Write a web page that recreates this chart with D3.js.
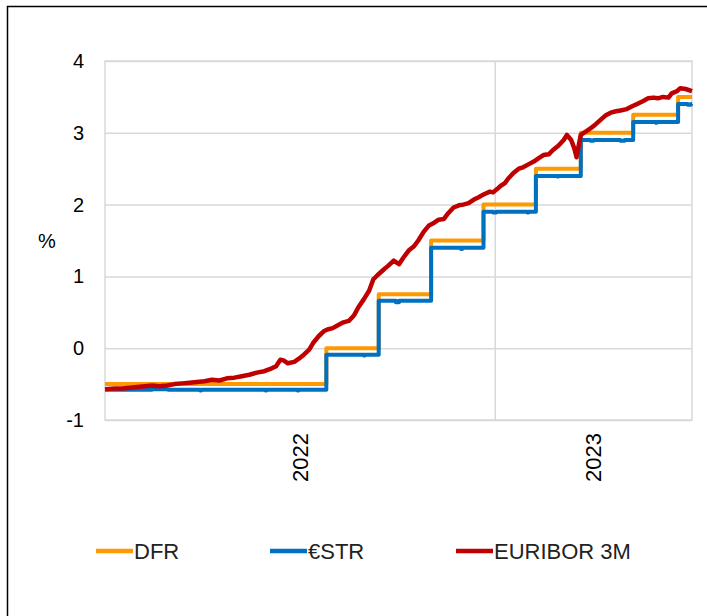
<!DOCTYPE html>
<meta charset="utf-8">
<script src="https://d3js.org/d3.v7.min.js"></script>
<style>
  body { margin: 0; background: #fff; }
  text { font-family: "Liberation Sans", Arial, sans-serif; fill: #000; }
</style>
<div id="my_dataviz"></div>

<script>
// ---- data ----
var seriesNames = ["DFR", "€STR", "EURIBOR 3M"];
var seriesColors = ["#FF9900", "#0070C0", "#C00000"];
var yTicks = [-1, 0, 1, 2, 3, 4];
var years = ["2022", "2023"];

// deposit facility rate, step dates
var dfr = [
  ["2022-01-01", -0.5], ["2022-07-27", 0], ["2022-09-14", 0.75], ["2022-11-02", 1.5],
  ["2022-12-21", 2.0], ["2023-02-08", 2.5], ["2023-03-22", 3.0], ["2023-05-10", 3.25],
  ["2023-06-21", 3.5], ["2023-07-04", 3.5]
];

// euro short-term rate
var estr = [
  ["2022-01-01", -0.58], ["2022-02-10", -0.58], ["2022-02-14", -0.57], ["2022-03-01", -0.58],
  ["2022-03-31", -0.59], ["2022-04-01", -0.58], ["2022-05-31", -0.59], ["2022-06-01", -0.58],
  ["2022-06-30", -0.59], ["2022-07-01", -0.58], ["2022-07-27", -0.09], ["2022-08-31", -0.10],
  ["2022-09-01", -0.09], ["2022-09-14", 0.66], ["2022-09-30", 0.64], ["2022-10-03", 0.66],
  ["2022-11-02", 1.40], ["2022-11-30", 1.38], ["2022-12-01", 1.40], ["2022-12-21", 1.90],
  ["2022-12-30", 1.89], ["2023-01-02", 1.90], ["2023-01-31", 1.89], ["2023-02-01", 1.90],
  ["2023-02-08", 2.40], ["2023-02-28", 2.39], ["2023-03-01", 2.40], ["2023-03-22", 2.90],
  ["2023-03-31", 2.89], ["2023-04-03", 2.90], ["2023-04-28", 2.89], ["2023-05-02", 2.90],
  ["2023-05-10", 3.15], ["2023-05-31", 3.14], ["2023-06-01", 3.15], ["2023-06-21", 3.40],
  ["2023-06-30", 3.39], ["2023-07-03", 3.40], ["2023-07-04", 3.40]
];

// 3-month euribor
var euribor = [
  ["2022-01-01", -0.57], ["2022-01-10", -0.56], ["2022-01-17", -0.56], ["2022-01-24", -0.55],
  ["2022-01-31", -0.54], ["2022-02-07", -0.53], ["2022-02-14", -0.52], ["2022-02-21", -0.53],
  ["2022-02-28", -0.52], ["2022-03-07", -0.50], ["2022-03-14", -0.49], ["2022-03-21", -0.48],
  ["2022-03-28", -0.47], ["2022-04-04", -0.46], ["2022-04-11", -0.44], ["2022-04-18", -0.45],
  ["2022-04-25", -0.42], ["2022-05-02", -0.41], ["2022-05-09", -0.39], ["2022-05-16", -0.37],
  ["2022-05-23", -0.34], ["2022-05-30", -0.32], ["2022-06-06", -0.28], ["2022-06-10", -0.25],
  ["2022-06-14", -0.16], ["2022-06-17", -0.17], ["2022-06-21", -0.21], ["2022-06-27", -0.19],
  ["2022-07-01", -0.15], ["2022-07-06", -0.09], ["2022-07-11", -0.02], ["2022-07-15", 0.08],
  ["2022-07-20", 0.17], ["2022-07-25", 0.24], ["2022-07-28", 0.26], ["2022-08-02", 0.28],
  ["2022-08-08", 0.33], ["2022-08-12", 0.36], ["2022-08-17", 0.38], ["2022-08-22", 0.46],
  ["2022-08-26", 0.57], ["2022-08-31", 0.68], ["2022-09-05", 0.80], ["2022-09-09", 0.96],
  ["2022-09-13", 1.02], ["2022-09-19", 1.10], ["2022-09-23", 1.15], ["2022-09-28", 1.22],
  ["2022-10-03", 1.17], ["2022-10-07", 1.26], ["2022-10-12", 1.36], ["2022-10-17", 1.42],
  ["2022-10-21", 1.50], ["2022-10-26", 1.62], ["2022-10-31", 1.71], ["2022-11-04", 1.74],
  ["2022-11-09", 1.79], ["2022-11-14", 1.80], ["2022-11-18", 1.88], ["2022-11-23", 1.96],
  ["2022-11-28", 1.99], ["2022-12-02", 2.00], ["2022-12-07", 2.02], ["2022-12-12", 2.07],
  ["2022-12-16", 2.10], ["2022-12-21", 2.14], ["2022-12-27", 2.18], ["2022-12-30", 2.17],
  ["2023-01-03", 2.22], ["2023-01-06", 2.26], ["2023-01-10", 2.30], ["2023-01-13", 2.36],
  ["2023-01-18", 2.44], ["2023-01-23", 2.50], ["2023-01-27", 2.52], ["2023-02-01", 2.56],
  ["2023-02-06", 2.60], ["2023-02-10", 2.64], ["2023-02-15", 2.69], ["2023-02-20", 2.70],
  ["2023-02-24", 2.76], ["2023-03-01", 2.82], ["2023-03-06", 2.90], ["2023-03-09", 2.97],
  ["2023-03-13", 2.90], ["2023-03-16", 2.78], ["2023-03-18", 2.66], ["2023-03-20", 2.82],
  ["2023-03-22", 2.97], ["2023-03-27", 3.02], ["2023-03-31", 3.06], ["2023-04-05", 3.12],
  ["2023-04-11", 3.20], ["2023-04-14", 3.24], ["2023-04-19", 3.28], ["2023-04-24", 3.30],
  ["2023-04-28", 3.31], ["2023-05-04", 3.33], ["2023-05-09", 3.37], ["2023-05-15", 3.41],
  ["2023-05-19", 3.44], ["2023-05-24", 3.48], ["2023-05-29", 3.49], ["2023-06-02", 3.48],
  ["2023-06-07", 3.50], ["2023-06-12", 3.49], ["2023-06-15", 3.55], ["2023-06-20", 3.58],
  ["2023-06-23", 3.62], ["2023-06-28", 3.61], ["2023-07-04", 3.58]
];

var xStart = "2022-01-01", xEnd = "2023-07-04";

// ---- layout ----
var margin = {top: 61, right: 15, bottom: 196, left: 105},
    width = 707 - margin.left - margin.right,
    height = 616 - margin.top - margin.bottom;

var parse = d3.timeParse("%Y-%m-%d");

var root = d3.select("#my_dataviz")
  .append("svg")
    .attr("width", 707)
    .attr("height", 616);

// outer frame (only top and left edges show)
root.append("path")
  .attr("d", "M7.5,616 V6.5 H707")
  .attr("fill", "none")
  .attr("stroke", "#000")
  .attr("stroke-width", 1.5);

var svg = root.append("g")
  .attr("transform", "translate(" + margin.left + "," + margin.top + ")");

// X scale
var x = d3.scaleTime()
  .domain([parse(xStart), parse(xEnd)])
  .range([0, width]);

// Y scale + horizontal gridlines
var y = d3.scaleLinear()
  .domain([-1, 4])
  .range([height, 0]);

var yAxis = svg.append("g")
  .call(d3.axisLeft(y).tickValues(yTicks).tickSize(-width).tickPadding(21)
    .tickFormat(function(d) { return String(d); }));
yAxis.select(".domain").remove();
yAxis.selectAll("line").attr("stroke", "#D9D9D9").attr("stroke-width", 1.5);
yAxis.selectAll("text").style("font-size", "20px").attr("font-family", "Liberation Sans, Arial, sans-serif").attr("fill", "#000");

// plot border
svg.append("rect")
  .attr("width", width)
  .attr("height", height)
  .attr("fill", "none")
  .attr("stroke", "#D9D9D9")
  .attr("stroke-width", 1.5);

// year boundary gridline + year labels centered on visible span
var yearBounds = years.map(function(yr) {
  var a = parse(yr + "-01-01"), b = parse((+yr + 1) + "-01-01");
  return [Math.max(0, x(a)), Math.min(width, x(b))];
});
yearBounds.forEach(function(b, i) {
  if (i > 0) {
    svg.append("line")
      .attr("x1", b[0]).attr("x2", b[0])
      .attr("y1", 0).attr("y2", height)
      .attr("stroke", "#D9D9D9")
      .attr("stroke-width", 1.5);
  }
  svg.append("text")
    .attr("transform", "translate(" + ((b[0] + b[1]) / 2) + "," + (height + 13) + ")rotate(-90)")
    .attr("dy", "0.35em")
    .attr("text-anchor", "end")
    .style("font-size", "22px")
    .text(years[i]);
});

// y label
svg.append("text")
  .attr("x", -58)
  .attr("y", 187)
  .attr("text-anchor", "middle")
  .style("font-size", "20px")
  .text("%");

// lines
var line = d3.line()
  .x(function(d) { return x(parse(d[0])); })
  .y(function(d) { return y(d[1]); });

[dfr, estr, euribor].forEach(function(data, i) {
  svg.append("path")
    .datum(data)
    .attr("fill", "none")
    .attr("stroke", seriesColors[i])
    .attr("stroke-width", i == 2 ? 4.5 : 4)
    .attr("stroke-linejoin", "round")
    .attr("d", line.curve(i < 2 ? d3.curveStepAfter : d3.curveLinear));
});

// legend
var legendX = [96, 270, 456];
seriesNames.forEach(function(name, i) {
  var g = root.append("g").attr("transform", "translate(" + legendX[i] + ",551)");
  g.append("line")
    .attr("x1", 0).attr("x2", 37)
    .attr("stroke", seriesColors[i])
    .attr("stroke-width", 4.5);
  g.append("text")
    .attr("x", 38)
    .attr("dy", "0.35em")
    .style("font-size", "22px")
    .style("fill", "#222")
    .text(name);
});
</script>
